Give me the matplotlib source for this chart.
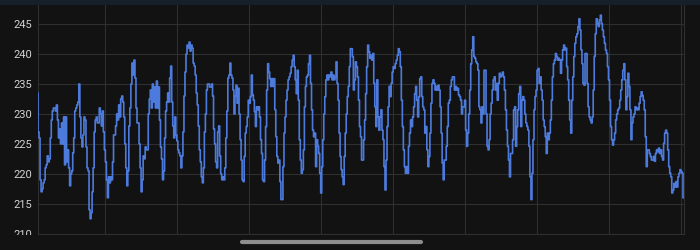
import numpy as np
import matplotlib
matplotlib.use("Agg")
import matplotlib.pyplot as plt
from matplotlib.lines import Line2D
from matplotlib.patches import Rectangle

# voltage readings, left to right
volts_a = [233.5, 227, 226, 219, 217, 217.5, 218.5, 219, 221, 221.5, 223, 222, 222.5, 226, 229, 230.5, 231, 231,
           230.5, 231.5, 229, 226, 227.5, 225, 228.5, 225, 229.5, 221.5, 229.5, 222, 224, 221, 218, 220, 220.5,
           223.5, 226, 230.5, 231, 231.5, 232, 235, 229.5, 226, 224.5, 226.5, 229.5, 229, 224.5, 221, 220.5, 214,
           212.5, 213.5, 217, 221, 227, 229, 229.5, 228.5, 228.5, 231, 230, 228, 230.5, 227, 224, 222, 219, 216,
           219.5, 218.5, 219.5, 219, 222, 226.5, 226.5, 228, 230, 229, 231.5, 229.5, 232.5, 233, 232, 229.5, 225,
           221, 218, 220.5, 228, 231, 235, 238.5, 236.5, 239, 236, 231, 228.5, 228.5, 225, 221, 217, 219, 223,
           222.5, 224.5, 224, 224, 230, 232.5, 234, 231, 235, 232, 234.5, 231, 235.5, 231, 234.5, 229, 224.5,
           222.5, 219, 220.5, 226, 230.5, 232, 233.5, 232, 236, 238, 232, 228, 226, 229.5, 226.5, 225.5, 224,
           223.5, 223, 221, 223, 227, 233, 237, 240, 241.5, 241, 242, 240.5, 241.5, 241, 238.5, 238, 236.5,
           233.5, 231.5, 228, 224, 222, 219.5, 218.5, 221, 227, 230, 234, 235, 235, 234.5, 234.5, 235, 233,
           227.5, 225, 222, 221, 227, 228, 223, 220, 219, 219.5, 219, 221, 226, 230.5, 236, 236.5, 238.5, 236.5,
           236, 234, 230]

volts_b = [233, 234.8, 231.8, 234.3, 230, 225.7, 222.3, 219, 218.7, 222.9, 226.8, 227.9, 229.5, 232.3, 231.8,
           232.9, 236.5, 233.2, 232.3, 230.4, 227.9, 231.2, 230.7, 231.2, 229.5, 225.7, 223.4, 219, 218.7, 222.3,
           227.9, 234, 238.4, 237, 235.9, 234.6, 235.9, 234.6, 235.9, 230.7, 226.2, 222.9, 221.8, 222.3, 218.7,
           215.7, 215.7, 221.2, 226.8, 229.5, 232.3, 234, 235.7, 236.2, 236.8, 237.9, 239, 239.8, 237.9, 235.7,
           233.4, 237.3, 232.3, 225.7, 222.3, 220.1, 220.7, 224, 231.2, 234.6, 236.2, 236.5, 238.4, 239.8, 235.1,
           230.7, 227.3, 226.2, 226.8, 221.2, 225.7, 224.6, 223.4, 220.1, 216.8, 221.2, 225.7, 230, 232.9, 235.7,
           236.5, 235.7, 236.5, 236.2, 237, 235.7, 236.5, 235.7, 236.2, 238.7, 235.1, 232.3, 226.8, 222.9, 220.7,
           219.5, 218.2, 222.9, 226.8, 230, 232.9, 234.6, 237.9, 240.9, 240.9, 239.6, 234, 235.7, 238.7, 237.9,
           236.2, 232.3, 227.9, 226.2, 222.3, 222.3, 225.7, 229, 233.4, 237.9, 241.5, 240.4, 239.3, 239.8, 239,
           240.1, 235.1, 231.2, 227.9, 235.7, 229.5, 227.3, 229.5, 230.7, 227.3, 225.7, 221.2, 217.3, 222.3,
           227.9, 231.2, 234.6, 232.9, 235.1, 237, 237.9, 237.6, 238.4, 239, 239.8, 240.9, 240.4, 237.9, 232.3,
           227.9, 224, 221.2, 220.1, 221.2, 220.1, 224.6, 226.8, 229, 227.9, 229.5, 231.2, 233.4, 234.6, 232.3,
           229.5, 232.9, 235.9, 236.2, 232.9, 231.2, 230.7, 226.8, 227.9, 224, 221.2, 222.9, 226.8, 231.8, 235.1,
           235.7, 235.1, 234, 234.6, 234, 234.8, 234, 231.2, 226.8, 221.8, 219, 222.3, 222.3, 224.6, 227.9, 231.8,
           232.3, 234.6, 235.7, 236.2, 236.2, 234, 234.6, 234, 234.3, 233.2, 232.9, 232.3, 230, 231.2]

volts_c = [231.2, 232.3, 227.3, 224.6, 226.8, 230, 234, 238.4, 240.7, 242.9, 239.6, 239.3, 238.7, 238.4, 237.3,
           231.2, 230.7, 228.5, 231.2, 230, 237.3, 237.3, 230, 224.6, 224, 225.7, 230, 231.8, 234, 235.7, 236.2,
           234, 235.1, 232.3, 235.1, 236.8, 236.2, 236.5, 237, 236.2, 234, 230.7, 227.3, 224.6, 222.3, 219.5,
           223.4, 223.4, 225.7, 230.7, 231.2, 224.6, 227.9, 230.7, 233.4, 234.6, 227.9, 232.3, 232.9, 232.3, 230,
           228.5, 227.9, 227.3, 224.6, 219.5, 215.7, 220.1, 225.7, 230.7, 232.9, 234, 237.3, 237.6, 235.1, 236.2,
           234, 232.3, 229, 227.9, 226.2, 223.4, 226.8, 225.7, 226.8, 229, 232.3, 236.2, 238.4, 239, 240.1, 239.6,
           239, 239.3, 239, 236.8, 239, 240.7, 241.5, 240.7, 241, 237.9, 235.7, 232.3, 229, 226.8, 232.3, 236.2,
           239.6, 241.8, 242.9, 243.4, 244.6, 245.9, 244, 240.7, 238.4, 235.1, 234.8, 240.1, 240.1, 235.1, 231.2,
           229.5, 229, 228.5, 229.5, 234, 239.6, 243.4, 245.9, 245.1, 244.6, 245.7, 246.5, 245.1, 244, 242.9,
           241.8, 240.7, 240.1, 237.9, 235.7, 232.3, 227.9, 225.7, 224.8, 225.7, 226.8, 229, 230, 230.7, 231,
           232.3, 234, 235.7, 237.3, 238.4, 235.7, 230.7, 232.9, 236.8, 234.6, 230.7, 225.7, 228.5, 229.5, 230,
           231.2, 230.7, 231, 230.7, 231.8, 232.9, 233.7, 233.1, 232.3, 230.7, 226.2, 221.2, 224, 224, 223.4,
           222.9, 222.3, 222.3, 222.9, 222.1, 223.4, 224, 223.7, 224.3, 223.4, 224, 222.9, 222.3, 225.1, 226.8,
           227.3, 226.8, 224, 221.2, 220.1, 219.5, 216.8, 217.3, 218.4, 217.8, 218.7, 217.8, 219.5, 220.1, 220.7,
           220.4, 220.1, 216]

y_ticks = [210, 215, 220, 225, 230, 235, 240, 245]

volts = np.array(volts_a + volts_b + volts_c)
x = np.arange(len(volts))

bg = "#121212"
grid_c = "#2f2f2f"

plt.rcParams["font.family"] = ["Roboto", "DejaVu Sans"]

fig = plt.figure(figsize=(7, 2.5), dpi=100, facecolor=bg)
ax = fig.add_axes([37.5 / 700, 16.3 / 250, 646 / 700, 228.7 / 250])
ax.set_facecolor(bg)

ax.plot(x, volts, color="#4d7bdd", lw=1.2, drawstyle="steps-mid", zorder=3)

n = len(volts) - 1
ax.set_xlim(0, n)
ax.set_ylim(210, 248.2)
step = n * 72 / 646
ax.set_xticks(np.arange(n * 67.5 / 646, n, step))
ax.set_yticks(y_ticks)
ax.tick_params(axis="x", length=0, labelbottom=False)
ax.tick_params(axis="y", length=0, pad=4, labelsize=8, labelcolor="#d2d2d2")
ax.grid(True, color=grid_c, lw=0.8)
for side in ["left", "right", "bottom"]:
    ax.spines[side].set_color(grid_c)
    ax.spines[side].set_linewidth(0.8)
ax.spines["top"].set_visible(False)

# strip at top of screen and clipped area under the plot
fig.patches.append(Rectangle((0, 245 / 250), 1, 5 / 250, transform=fig.transFigure,
                             facecolor="#16202a", edgecolor="none", zorder=5))
fig.patches.append(Rectangle((0, 0), 1, 15 / 250, transform=fig.transFigure,
                             facecolor=bg, edgecolor="none", zorder=5))
# scroll indicator
fig.lines.append(Line2D([242 / 700, 421 / 700], [8.3 / 250, 8.3 / 250], transform=fig.transFigure,
                        color="#8e8e8e", lw=3, solid_capstyle="round", zorder=6))

fig.savefig("out.png", dpi=100, facecolor=bg)
